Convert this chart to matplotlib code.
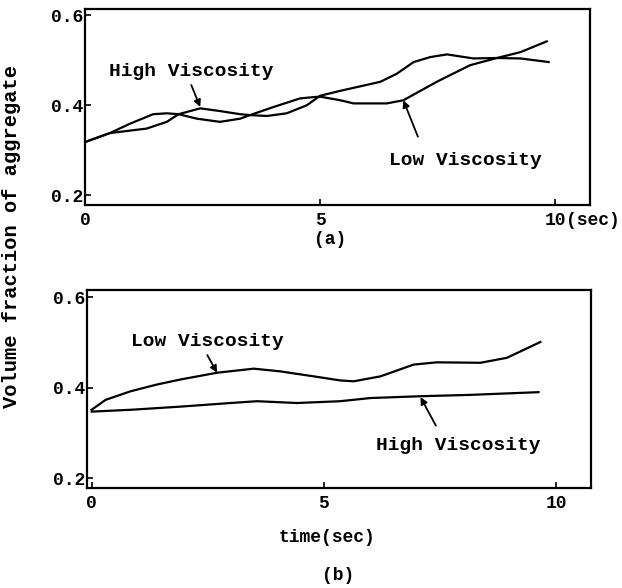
import matplotlib
matplotlib.use("Agg")
import matplotlib.pyplot as plt

# ---- data: panel (a) ----
a_high_x = [0, 0.53, 1.31, 1.74, 1.99, 2.45, 2.87, 3.30, 3.51, 3.87, 4.29, 4.72, 5.0, 5.43,
            6.28, 6.63, 6.99, 7.34, 7.70, 8.26, 8.76, 9.26, 9.86]
a_high_y = [0.318, 0.338, 0.348, 0.363, 0.380, 0.393, 0.387, 0.380, 0.378, 0.376, 0.382, 0.400,
            0.421, 0.432, 0.452, 0.470, 0.496, 0.507, 0.513, 0.504, 0.505, 0.504, 0.496]
a_low_x = [0, 0.53, 0.96, 1.45, 1.74, 1.99, 2.38, 2.87, 3.30, 3.51, 4.01, 4.57, 4.86, 5.0,
           5.43, 5.71, 6.42, 6.77, 7.48, 8.19, 8.76, 9.26, 9.82]
a_low_y = [0.318, 0.338, 0.359, 0.380, 0.382, 0.380, 0.370, 0.363, 0.370, 0.378, 0.396, 0.415,
           0.418, 0.419, 0.411, 0.404, 0.404, 0.411, 0.452, 0.489, 0.505, 0.518, 0.542]

# ---- data: panel (b) ----
b_low_x = [0, 0.30, 0.84, 1.41, 1.91, 2.70, 3.49, 4.06, 4.78, 5.35, 5.64, 6.22, 6.93, 7.43,
           8.37, 8.94, 9.66]
b_low_y = [0.351, 0.373, 0.392, 0.407, 0.418, 0.433, 0.442, 0.436, 0.425, 0.416, 0.414, 0.425,
           0.451, 0.456, 0.455, 0.466, 0.501]
b_high_x = [0, 0.84, 1.91, 2.99, 3.56, 4.42, 5.35, 6.0, 7.08, 8.15, 9.62]
b_high_y = [0.347, 0.351, 0.358, 0.366, 0.370, 0.366, 0.370, 0.377, 0.381, 0.384, 0.390]

xticks = [0, 5, 10]
xticklabels = ["0", "5", "10"]
yticks = [0.2, 0.4, 0.6]
yticklabels = ["0.2", "0.4", "0.6"]

FONT = "Liberation Mono"
plt.rcParams["font.family"] = [FONT, "DejaVu Sans Mono"]
plt.rcParams["font.weight"] = "bold"

fig = plt.figure(figsize=(6.22, 5.88), dpi=100)
ax1 = fig.add_axes([85/622, 1-205/588, (590-85)/622, (205-9)/588])
ax2 = fig.add_axes([87/622, 1-488/588, (591-87)/622, (488-290)/588])

lw = 1.6
ax1.plot(a_high_x, a_high_y, color="black", lw=lw)
ax1.plot(a_low_x, a_low_y, color="black", lw=lw)
ax2.plot(b_low_x, b_low_y, color="black", lw=lw)
ax2.plot(b_high_x, b_high_y, color="black", lw=lw)

ax1.set_xlim(0, 10.74)
ax1.set_ylim(0.178, 0.614)
ax2.set_xlim(-0.1, 10.75)
ax2.set_ylim(0.178, 0.616)

for ax in (ax1, ax2):
    ax.set_xticks(xticks)
    ax.set_xticklabels(xticklabels)
    ax.set_yticks(yticks)
    ax.set_yticklabels(yticklabels)
    ax.tick_params(direction="in", length=4, width=1.2, labelsize=13)
    ax.tick_params(axis="x", pad=5)
    ax.tick_params(axis="y", pad=1.5)
    for s in ax.spines.values():
        s.set_linewidth(1.6)

# unit suffix after the "10" tick label of panel (a)
ax1.annotate("(sec)", xy=(10, 0), xycoords=ax1.get_xaxis_transform(),
             xytext=(7.6, -5), textcoords="offset points", ha="left", va="top", fontsize=13)

arrow = dict(arrowstyle="-|>", color="black", lw=1.3, mutation_scale=10, shrinkA=0, shrinkB=0)
tfs = 14
ax1.text(2.27, 0.474, "High Viscosity", ha="center", va="center", fontsize=tfs)
ax1.annotate("", xy=(2.45, 0.396), xytext=(2.26, 0.445), arrowprops=arrow)
ax1.text(8.09, 0.278, "Low Viscosity", ha="center", va="center", fontsize=tfs)
ax1.annotate("", xy=(6.77, 0.411), xytext=(7.08, 0.330), arrowprops=arrow)

ax2.text(2.49, 0.503, "Low Viscosity", ha="center", va="center", fontsize=tfs)
ax2.annotate("", xy=(2.70, 0.433), xytext=(2.49, 0.472), arrowprops=arrow)
ax2.text(7.89, 0.273, "High Viscosity", ha="center", va="center", fontsize=tfs)
ax2.annotate("", xy=(7.08, 0.379), xytext=(7.41, 0.316), arrowprops=arrow)

fig.text(12/622, 1-236/588, "Volume fraction of aggregate", rotation=90, ha="center",
         va="center", fontsize=14.7)
fig.text(330/622, 1-240/588, "(a)", ha="center", va="center", fontsize=13)
fig.text(327/622, 1-537/588, "time(sec)", ha="center", va="center", fontsize=13)
fig.text(338/622, 1-575/588, "(b)", ha="center", va="center", fontsize=13)

fig.savefig("out.png", dpi=100)
